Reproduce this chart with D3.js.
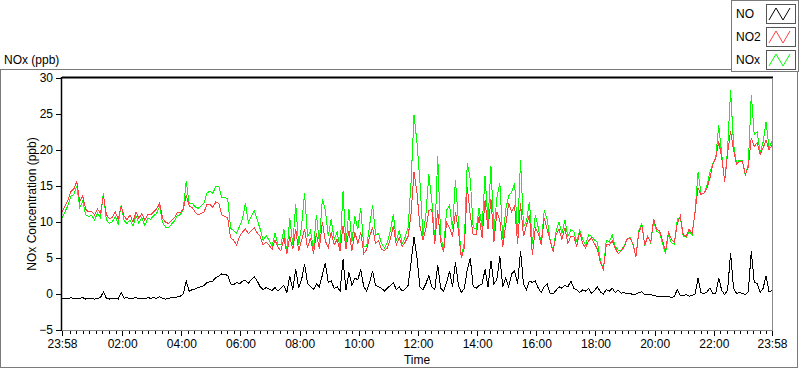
<!DOCTYPE html>
<html>
<head>
<meta charset="utf-8">
<script src="https://cdn.jsdelivr.net/npm/d3@7/dist/d3.min.js"></script>
<style>
  body { margin: 0; background: #fff; }
  svg { display: block; font-family: "Liberation Sans", Arial, sans-serif; }
  .tick text { font-size: 12px; fill: #000; }
  .lbl { font-size: 12px; fill: #000; }
</style>
</head>
<body>
<div id="chart"></div>
<script>
// readings every 6 minutes, one row per hour, starting 23:58
const startTime = new Date(2020, 0, 1, 23, 58)
const endTime = new Date(2020, 0, 2, 23, 58)
const stepMinutes = 6

const no = [
  -0.7, -0.6, -0.7, -0.5, -0.7, -0.6, -0.6, -0.5, -0.7, -0.6,
  -0.6, -0.7, -0.6, -0.5, 0.3, -0.6, -0.7, -0.6, -0.6, -0.7,
  0.2, -0.6, -0.5, -0.7, -0.6, -0.5, -0.7, -0.6, -0.7, -0.5,
  -0.6, -0.5, -0.6, -0.4, -0.6, -0.7, -0.6, -0.5, -0.5, -0.4,
  -0.3, 0.0, 1.8, 0.4, 0.6, 0.7, 0.9, 1.0, 1.2, 1.6,
  1.7, 1.8, 2.3, 2.5, 2.8, 2.7, 2.6, 1.4, 1.3, 1.6,
  1.4, 1.8, 1.9, 1.5, 2.0, 2.4, 1.8, 1.0, 0.6, 0.9,
  0.7, 0.5, 0.9, 0.4, 0.8, 1.2, 0.2, 2.5, 0.6, 3.5,
  0.8, 2.0, 4.2, 1.5, 1.0, 0.6, 1.4, 1.0, 2.6, 4.3,
  1.6, 1.8, 0.8, 1.0, 0.4, 4.8, 0.5, 3.0, 1.2, 2.2,
  2.0, 3.4, 1.0, 0.4, 1.6, 3.2, 1.2, 1.0, 0.8, 0.4,
  0.8, 1.2, 1.6, 0.6, 1.0, 0.4, 0.7, 1.2, 4.4, 7.9,
  5.0, 1.0, 0.6, 1.4, 2.6, 1.0, 0.6, 4.0, 0.8, 0.4,
  1.6, 3.2, 1.0, 4.4, 1.2, 0.2, 0.8, 3.4, 5.0, 1.0,
  0.8, 1.2, 1.4, 3.4, 1.0, 4.6, 1.4, 2.0, 5.2, 1.0,
  2.2, 1.0, 2.8, 3.2, 1.4, 6.0, 1.4, 0.6, 1.8, 1.6,
  1.8, 0.8, 0.2, 1.0, 1.4, 0.1, 0.0, 0.5, 1.0, 0.8,
  1.2, 1.0, 1.8, 0.8, 0.6, 0.2, 0.6, 0.4, 0.8, 0.1,
  0.5, 1.0, 0.3, 0.0, 0.6, 0.4, 0.8, 0.2, 0.5, 0.1,
  0.2, 0.0, 0.1, -0.1, 0.0, 0.2, 0.3, -0.1, 0.0, -0.1,
  -0.2, -0.3, -0.3, -0.4, -0.4, -0.3, -0.5, -0.3, 0.6, -0.2,
  -0.2, -0.1, -0.3, -0.2, 0.0, 2.2, 0.2, 0.0, 0.3, 0.8,
  0.1, 0.1, 2.2, 0.5, -0.1, 0.6, 5.7, 0.8, 0.1, 0.2,
  0.1, -0.1, 0.3, 6.0, 1.6, 1.5, 0.2, 0.8, 2.5, 0.3, 0.5
]

const no2 = [
  11.4, 12.2, 13.0, 14.2, 14.6, 15.6, 12.8, 13.6, 11.8, 11.4,
  11.5, 11.0, 11.8, 11.2, 13.7, 11.0, 10.5, 10.6, 11.4, 10.4,
  12.2, 10.8, 10.3, 11.0, 10.0, 11.4, 10.5, 11.2, 10.2, 11.0,
  11.0, 11.4, 11.8, 12.6, 10.5, 10.0, 9.8, 10.2, 10.6, 11.3,
  11.3, 11.8, 13.8, 12.2, 12.0, 11.4, 11.0, 11.2, 11.4, 12.4,
  12.5, 12.0, 12.8, 12.6, 11.0, 10.8, 10.6, 7.8, 7.5, 6.8,
  8.0, 8.6, 9.0, 8.4, 8.8, 9.2, 8.5, 8.0, 6.8, 7.2,
  6.8, 6.2, 7.5, 6.5, 6.0, 7.8, 5.6, 8.0, 6.2, 9.0,
  6.0, 7.5, 9.0, 6.4, 7.8, 5.6, 8.4, 6.2, 10.0, 7.4,
  6.4, 8.6, 6.8, 7.6, 6.0, 9.5, 6.3, 8.8, 6.0, 8.6,
  7.0, 8.6, 5.6, 6.2, 8.0, 9.2, 7.0, 7.4, 6.2, 6.0,
  6.4, 7.6, 9.5, 6.8, 7.8, 6.6, 7.2, 8.0, 11.2, 17.0,
  14.0, 9.4, 7.5, 9.0, 11.6, 11.8, 7.0, 11.6, 7.2, 5.8,
  10.0, 9.2, 8.0, 11.4, 8.8, 5.0, 6.4, 14.8, 11.0, 8.2,
  8.2, 10.8, 7.8, 13.0, 9.0, 13.2, 7.2, 11.4, 10.2, 6.6,
  9.6, 12.6, 11.4, 12.2, 7.0, 12.6, 8.0, 9.5, 11.0, 5.4,
  9.2, 8.4, 6.8, 10.6, 9.0, 7.4, 5.9, 8.2, 9.0, 7.6,
  9.2, 7.0, 8.0, 8.0, 6.6, 8.6, 7.0, 6.4, 7.4, 7.8,
  7.0, 6.2, 4.4, 3.4, 6.9, 6.8, 7.4, 6.4, 5.6, 6.0,
  6.5, 7.6, 7.8, 7.0, 5.2, 8.6, 9.5, 6.8, 8.0, 7.2,
  10.4, 9.0, 8.8, 7.4, 6.0, 8.6, 7.6, 7.2, 9.8, 10.8,
  8.2, 8.0, 9.0, 8.4, 11.4, 14.7, 13.8, 14.0, 14.7, 16.1,
  18.0, 18.9, 21.2, 18.9, 15.6, 19.6, 22.6, 20.0, 18.0, 18.4,
  18.4, 16.6, 17.7, 21.7, 20.5, 21.0, 19.4, 20.3, 21.4, 20.0, 20.7
]

const nox = [
  10.5, 11.4, 12.3, 13.6, 13.8, 15.0, 12.0, 12.9, 11.0, 10.8,
  10.9, 10.3, 11.2, 10.6, 14.0, 10.3, 9.8, 10.0, 10.8, 9.7,
  12.4, 10.2, 9.8, 10.3, 9.4, 10.9, 9.8, 10.6, 9.5, 10.5,
  10.4, 10.9, 11.2, 12.2, 9.9, 9.3, 9.2, 9.7, 10.1, 10.9,
  11.0, 11.8, 15.7, 12.5, 12.6, 12.1, 11.9, 12.2, 12.6, 14.0,
  14.3, 14.0, 15.0, 15.0, 13.4, 13.4, 13.2, 9.1, 8.8, 8.4,
  9.4, 10.4, 12.6, 9.9, 10.8, 11.6, 10.3, 9.0, 7.4, 8.1,
  7.5, 6.7, 8.4, 6.9, 6.8, 9.0, 5.8, 10.5, 6.8, 12.5,
  6.8, 9.5, 14.0, 7.9, 8.8, 6.2, 11.0, 7.2, 13.2, 11.7,
  8.0, 10.4, 7.6, 8.6, 6.4, 14.3, 6.8, 11.8, 7.2, 10.8,
  9.0, 12.0, 6.6, 6.6, 9.6, 12.4, 8.2, 8.4, 7.0, 6.4,
  7.2, 8.8, 11.1, 7.4, 8.8, 7.0, 7.9, 9.2, 15.6, 24.9,
  21.0, 15.5, 8.1, 11.0, 16.6, 13.0, 7.6, 19.2, 8.0, 6.2,
  11.6, 12.4, 9.0, 15.8, 10.0, 5.2, 7.2, 18.2, 16.0, 9.2,
  9.0, 12.0, 9.2, 16.4, 10.0, 17.8, 8.6, 13.4, 15.4, 7.6,
  11.8, 13.6, 14.2, 15.4, 8.4, 18.6, 9.4, 10.1, 12.8, 7.0,
  11.0, 9.2, 7.0, 11.6, 10.4, 7.5, 5.9, 8.7, 10.0, 8.4,
  10.3, 8.0, 8.9, 8.7, 7.2, 8.9, 7.6, 6.8, 8.2, 8.0,
  7.5, 7.2, 4.7, 3.4, 7.5, 7.2, 8.2, 6.6, 6.1, 6.1,
  6.7, 7.6, 7.9, 6.9, 5.2, 8.8, 9.8, 6.7, 8.0, 7.1,
  10.2, 8.7, 8.5, 7.0, 5.6, 8.3, 7.1, 6.9, 10.4, 10.6,
  8.0, 7.9, 8.7, 8.2, 11.4, 16.9, 14.0, 14.0, 15.0, 16.9,
  18.1, 19.0, 23.4, 19.4, 15.5, 20.2, 28.3, 20.8, 18.1, 18.6,
  18.5, 16.5, 18.0, 27.7, 22.1, 22.5, 19.6, 21.1, 23.9, 20.3, 21.2
]

const xTickLabels = ["23:58", "02:00", "04:00", "06:00", "08:00", "10:00", "12:00",
  "14:00", "16:00", "18:00", "20:00", "22:00", "23:58"]
const yTicks = [-5, 0, 5, 10, 15, 20, 25, 30]

const seriesNames = ["NO", "NO2", "NOx"]
const seriesColors = ["#000000", "#ff4040", "#00ff00"]

const width = 800, height = 369
const plot = { left: 62, right: 772, top: 78, bottom: 330 }

const svg = d3.select("#chart").append("svg")
    .attr("width", width)
    .attr("height", height)

// outer panel
svg.append("rect")
    .attr("x", 0.5).attr("y", 69.5)
    .attr("width", 797).attr("height", 298)
    .attr("fill", "#fff")
    .attr("stroke", "#7a7a7a")

svg.append("text").attr("class", "lbl")
    .attr("x", 4).attr("y", 64)
    .text("NOx (ppb)")

const x = d3.scaleTime()
    .domain([startTime, endTime])
    .range([plot.left, plot.right])

const y = d3.scaleLinear()
    .domain([-5, 30])
    .range([plot.bottom, plot.top])

const timeAt = i => new Date(startTime.getTime() + i * stepMinutes * 60000)

// major ticks: ends of the range and every even hour
const majorTimes = xTickLabels.map((lab, i) => {
  if (i == 0) return startTime
  if (i == xTickLabels.length - 1) return endTime
  const hh = +lab.slice(0, 2)
  return new Date(2020, 0, 2, hh, 0)
})

// minor ticks, nine divisions between the 2 hour marks
var minorTimes = []
for (var k = 1; k < 12 * 9; k++) {
  if (k % 9 == 0) continue
  var t = new Date(new Date(2020, 0, 2, 0, 0).getTime() + k * (120 / 9) * 60000)
  if (t < endTime) minorTimes.push(t)
}

svg.append("g")
    .attr("transform", `translate(0,${plot.bottom})`)
    .call(d3.axisBottom(x).tickValues(minorTimes).tickSize(4).tickFormat(""))
    .call(g => g.select(".domain").remove())
    .call(g => g.selectAll("line").attr("stroke", "#000").attr("shape-rendering", "crispEdges"))

svg.append("g")
    .attr("transform", `translate(0,${plot.bottom})`)
    .call(d3.axisBottom(x).tickValues(majorTimes).tickSize(6).tickPadding(3)
      .tickFormat((d, i) => xTickLabels[i]))
    .call(g => g.select(".domain").remove())
    .call(g => g.selectAll("line").attr("stroke", "#000").attr("shape-rendering", "crispEdges"))

svg.append("g")
    .attr("transform", `translate(${plot.left},0)`)
    .call(d3.axisLeft(y).tickValues(yTicks).tickSize(6).tickPadding(3))
    .call(g => g.select(".domain").remove())
    .call(g => g.selectAll("line").attr("stroke", "#000").attr("shape-rendering", "crispEdges"))

svg.append("text").attr("class", "lbl")
    .attr("transform", `translate(36,${(plot.top + plot.bottom) / 2}) rotate(-90)`)
    .attr("text-anchor", "middle")
    .text("NOx Concentration (ppb)")

svg.append("text").attr("class", "lbl")
    .attr("x", (plot.left + plot.right) / 2).attr("y", 364)
    .attr("text-anchor", "middle")
    .text("Time")

// plot lines, green under red under black (aliased like the original)
const line = d3.line()
    .x((d, i) => x(timeAt(i)))
    .y(d => y(d))

const lines = svg.append("g")
const plotOrder = [[nox, 2], [no2, 1], [no, 0]]
plotOrder.forEach(p => {
  lines.append("path")
      .datum(p[0])
      .attr("fill", "none")
      .attr("stroke", seriesColors[p[1]])
      .attr("stroke-width", 1)
      .attr("shape-rendering", "crispEdges")
      .attr("d", line)
})

// plot frame
svg.append("line").attr("x1", plot.left).attr("x2", plot.right + 1)
    .attr("y1", plot.top - 0.5).attr("y2", plot.top - 0.5)
    .attr("stroke", "#000").attr("stroke-width", 2)
svg.append("line").attr("x1", plot.left - 0.5).attr("x2", plot.left - 0.5)
    .attr("y1", plot.top - 1).attr("y2", plot.bottom + 1)
    .attr("stroke", "#000").attr("stroke-width", 1.5)
svg.append("line").attr("x1", plot.right + 0.5).attr("x2", plot.right + 0.5)
    .attr("y1", plot.top).attr("y2", plot.bottom + 1)
    .attr("stroke", "#8a8a8a")
svg.append("line").attr("x1", plot.left).attr("x2", plot.right + 1)
    .attr("y1", plot.bottom + 0.5).attr("y2", plot.bottom + 0.5)
    .attr("stroke", "#8a8a8a")

// legend
const legend = svg.append("g")
legend.append("rect")
    .attr("x", 731.5).attr("y", 0.5)
    .attr("width", 67).attr("height", 71)
    .attr("fill", "#fff").attr("stroke", "#7a7a7a")

seriesNames.forEach((name, i) => {
  const top = 4 + i * 23
  legend.append("text").attr("class", "lbl")
      .attr("x", 736).attr("y", top + 14)
      .text(name)
  legend.append("rect")
      .attr("x", 766.5).attr("y", top + 0.5)
      .attr("width", 29).attr("height", 19)
      .attr("fill", "#fff").attr("stroke", "#555")
  legend.append("path")
      .attr("d", `M${769},${top + 16} L${776},${top + 4} L${783},${top + 16} L${790},${top + 4}`)
      .attr("fill", "none")
      .attr("stroke", seriesColors[i])
})
</script>
</body>
</html>
